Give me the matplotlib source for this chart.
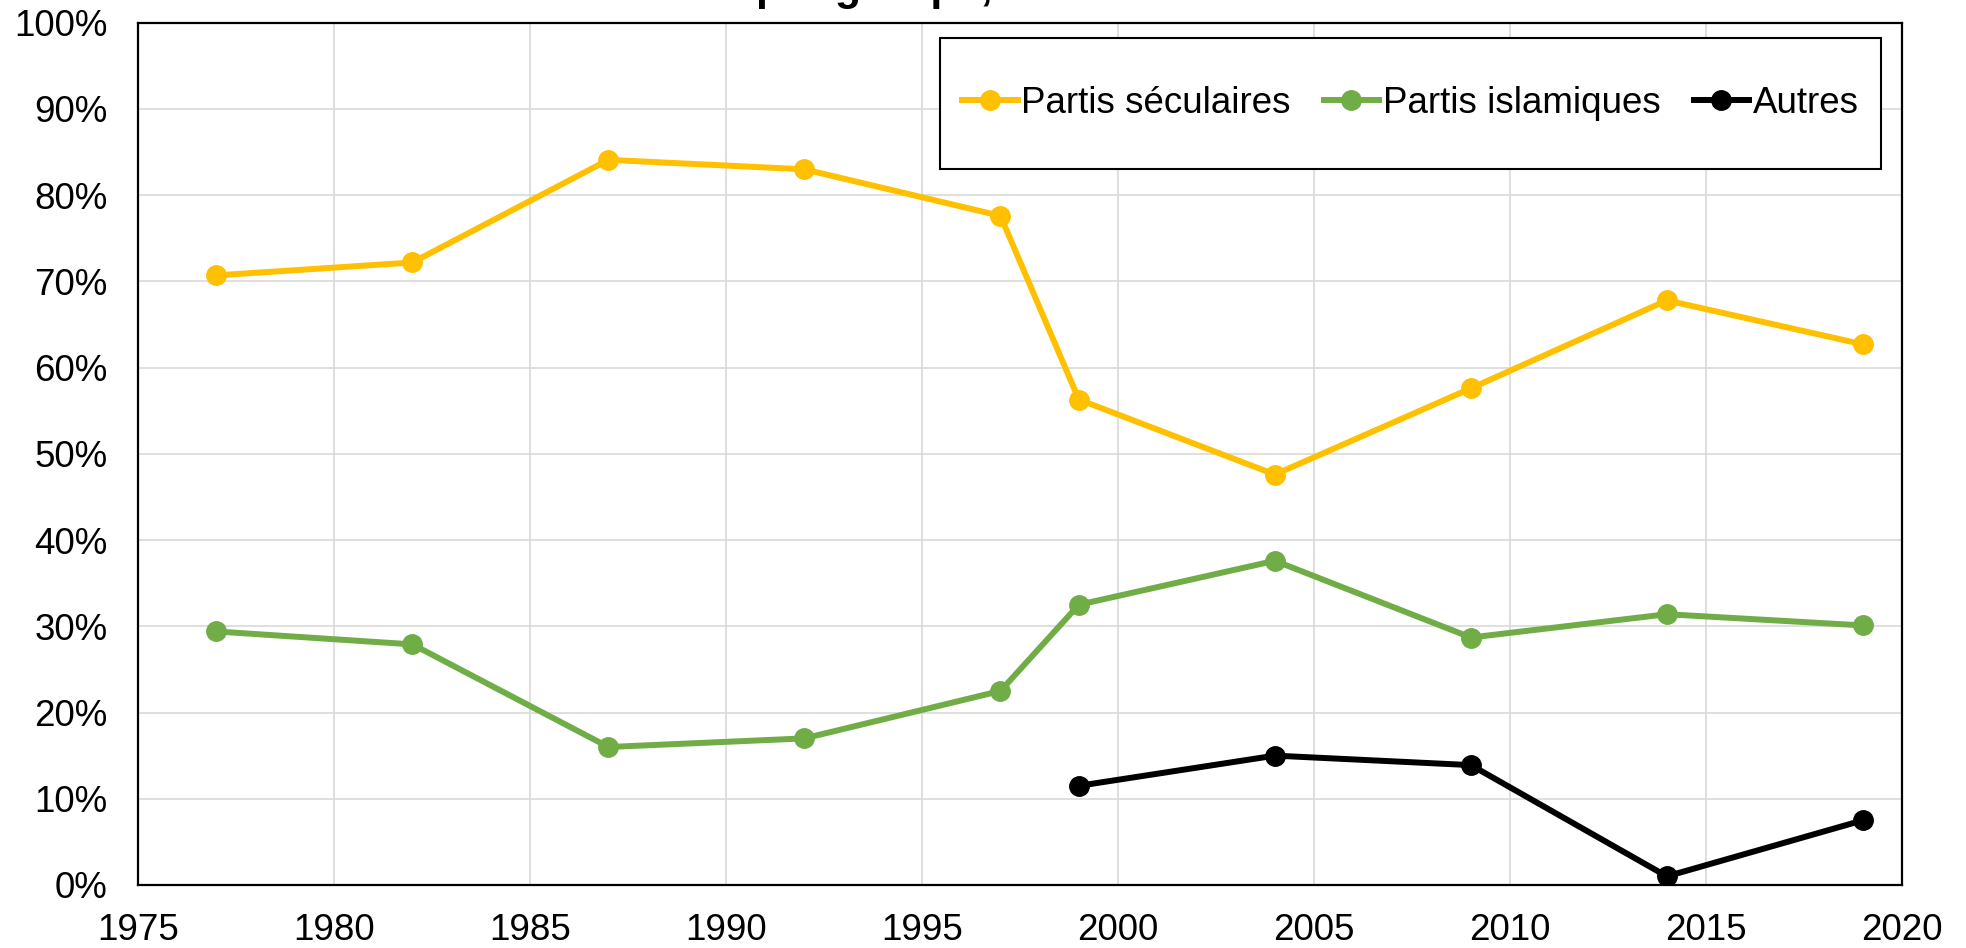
import matplotlib
matplotlib.use("Agg")
import matplotlib.pyplot as plt
from matplotlib.patches import Rectangle
from matplotlib.ticker import PercentFormatter

plt.rcParams['font.family'] = ['Liberation Sans', 'DejaVu Sans']

# Data (% of votes)
years = [1977, 1982, 1987, 1992, 1997, 1999, 2004, 2009, 2014, 2019]
seculaires = [70.7, 72.2, 84.1, 83.0, 77.6, 56.3, 47.6, 57.6, 67.8, 62.7]
islamiques = [29.4, 27.9, 16.0, 17.0, 22.5, 32.5, 37.6, 28.7, 31.4, 30.1]
autres_years = [1999, 2004, 2009, 2014, 2019]
autres = [11.5, 15.0, 13.9, 1.0, 7.5]

labels = ["Partis séculaires", "Partis islamiques", "Autres"]
colors = ["#FFC000", "#70AD47", "#000000"]

fig = plt.figure(figsize=(19.66, 9.48), dpi=100)
ax = fig.add_axes([0.0702, 0.0665, 0.8973, 0.9095])

line_kw = dict(lw=4.3, marker="o", markersize=14)
ax.plot(years, seculaires, color=colors[0], label=labels[0], **line_kw)
ax.plot(years, islamiques, color=colors[1], label=labels[1], **line_kw)
ax.plot(autres_years, autres, color=colors[2], label=labels[2], **line_kw)

ax.set_xlim(1975, 2020)
ax.set_ylim(0, 100)
ax.set_xticks(range(1975, 2021, 5))
ax.set_yticks(range(0, 101, 10))
ax.yaxis.set_major_formatter(PercentFormatter(decimals=0))
ax.grid(True, color="#D9D9D9", lw=1.2)
ax.set_axisbelow(True)
ax.tick_params(axis="both", length=0, labelsize=26.5)
ax.tick_params(axis="x", pad=20)
ax.tick_params(axis="y", pad=22)
for s in ax.spines.values():
    s.set_color("black")
    s.set_linewidth(1.6)

# legend box
ax.add_patch(Rectangle((0.4546, 0.830), 0.5334, 0.152, transform=ax.transAxes,
                       facecolor="white", edgecolor="black", lw=1.5, zorder=4))
ax.legend(loc="center", bbox_to_anchor=(0.7213, 0.906), ncol=3, frameon=False,
          fontsize=26.5, handlelength=1.5, handletextpad=0.1, columnspacing=0.9,
          markerscale=1.0).set_zorder(5)

fig.text(0.5, 1.0, "par groupe, 1977-2019", ha="center", va="baseline",
         fontsize=31, fontweight="bold")

fig.savefig("out.png", dpi=100)
